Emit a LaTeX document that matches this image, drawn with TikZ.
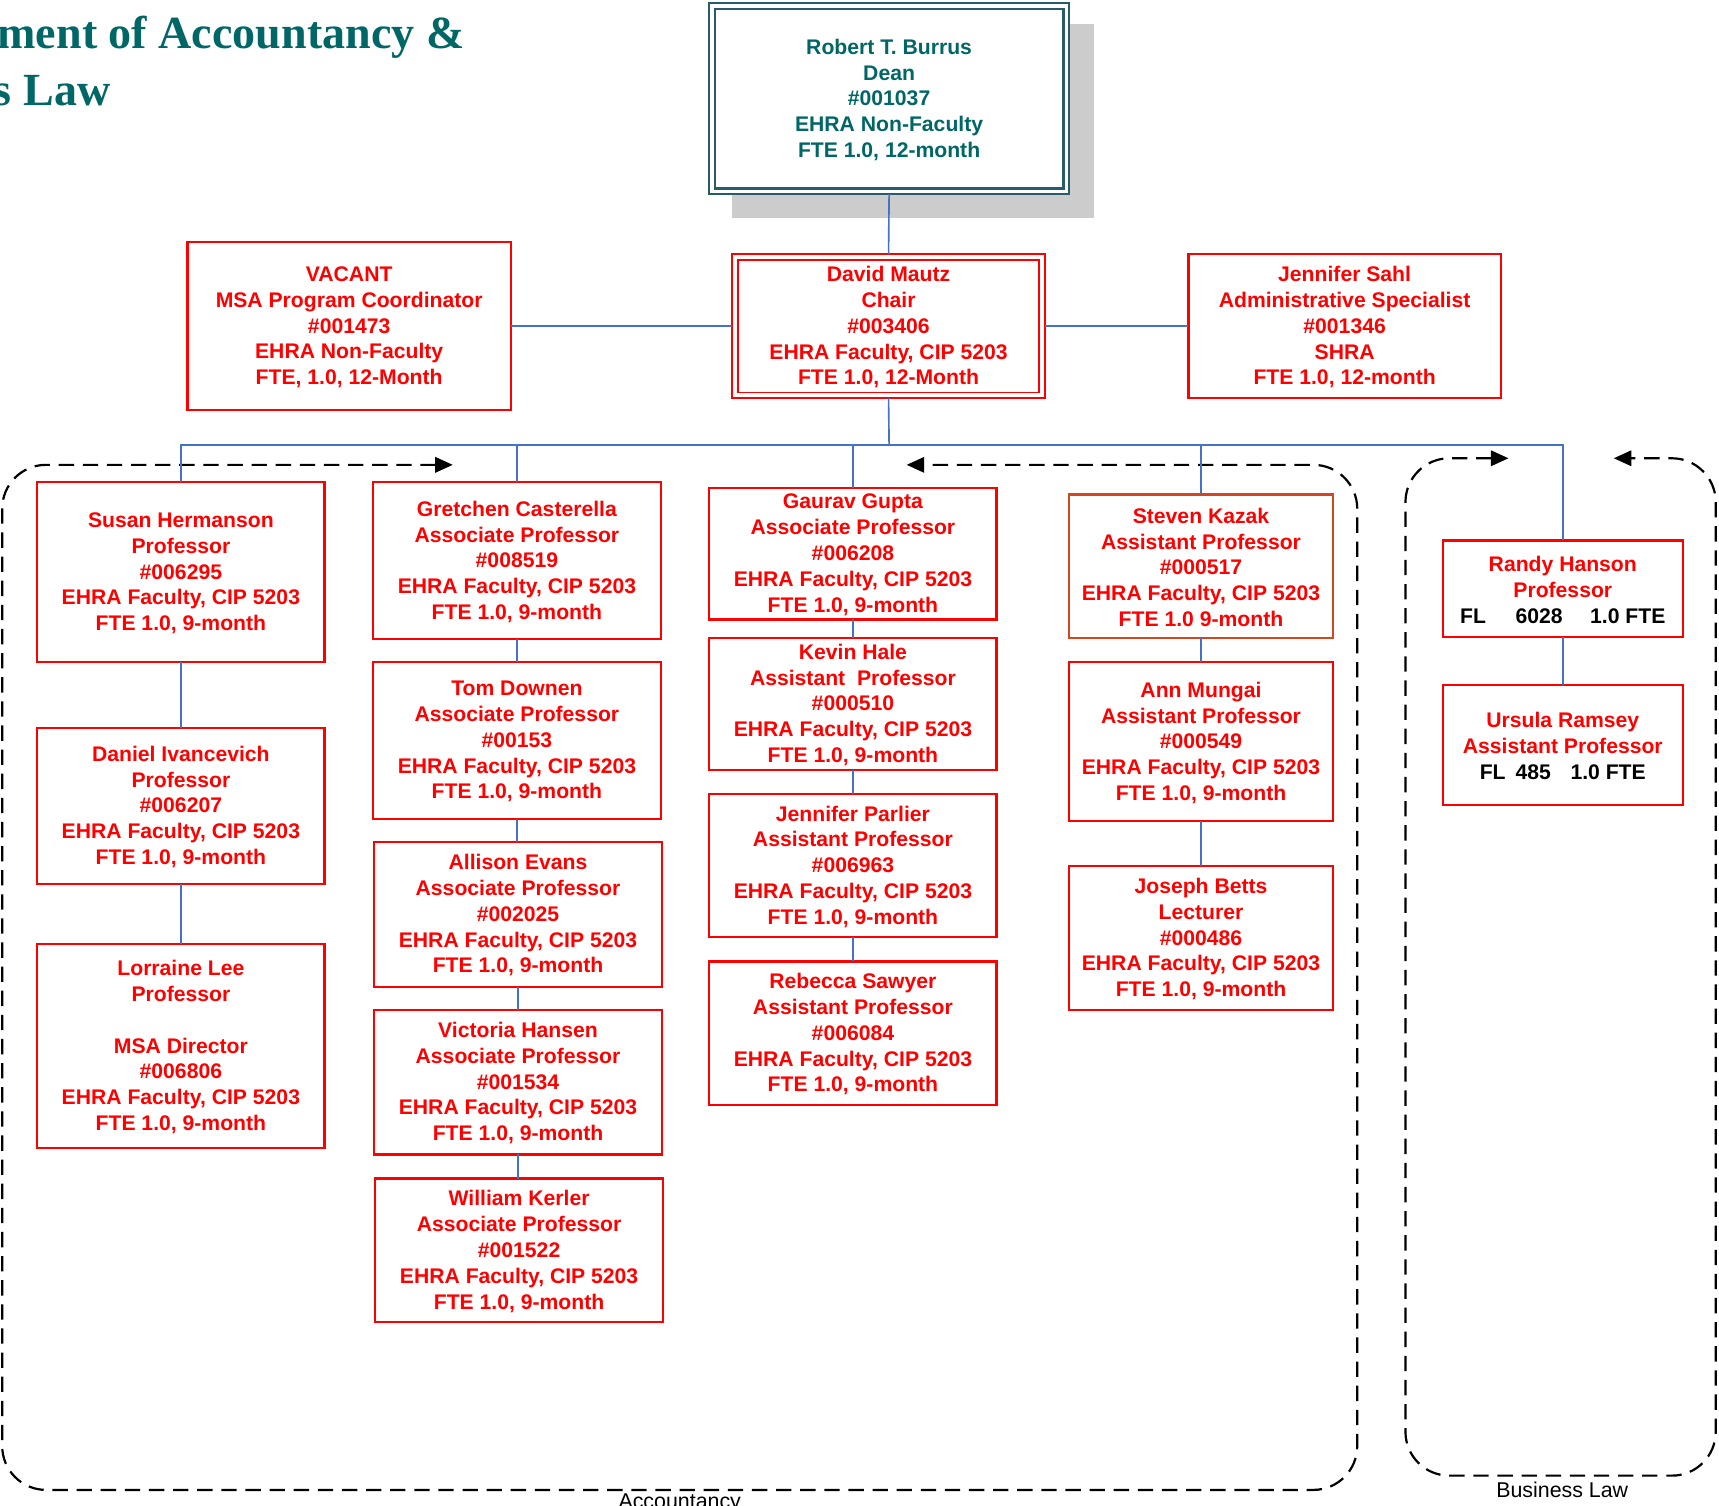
\documentclass[tikz,border=0pt]{standalone}
\usepackage{fontspec}
\setmainfont{Liberation Sans}
\newfontfamily\titleserif{Liberation Serif}
\usetikzlibrary{arrows.meta,fit}
\definecolor{orgred}{RGB}{255,0,0}
\definecolor{kazakred}{RGB}{210,72,30}
\definecolor{deanteal}{RGB}{0,102,102}
\definecolor{deanframe}{RGB}{40,92,104}
\definecolor{shadowgray}{RGB}{204,204,204}
\definecolor{connblue}{RGB}{68,114,196}
% #1 = name, #2 = extra frame options, #3 = fit corners, #4 = text
\newcommand{\orgbox}[4]{%
  \node[personframe, #2, fit={#3}] (#1) {};
  \node[persontext] (#1-text) at ([yshift=-0.5pt]#1.center) {#4};}
\begin{document}
\begin{tikzpicture}[x=0.5pt,y=-0.5pt,
  personframe/.style={draw=orgred, line width=1pt, fill=white, inner sep=0pt, outer sep=0pt},
  persontext/.style={text=orgred, inner sep=0pt, outer sep=0pt, align=center,
    font=\bfseries\fontsize{9.65pt}{11.75pt}\selectfont},
  conn/.style={draw=connblue, line width=0.75pt},
  groupline/.style={draw=black, line width=1pt, dash pattern=on 7pt off 4pt, rounded corners=20pt,
    {Triangle[length=8pt,width=7pt]}-{Triangle[length=8pt,width=7pt]}},
  grouplabel/.style={font=\fontsize{9.75pt}{11pt}\selectfont, anchor=base, inner sep=0pt},
  titletext/.style={font=\titleserif\bfseries\fontsize{21pt}{26pt}\selectfont, text=deanteal, anchor=base east, inner sep=0pt}
]
\useasboundingbox (0,0) rectangle (1568,1373);

% title
\node[titletext] (title1) at (424,44) {ment of Accountancy \&};
\node[titletext] (title2) at (101,96) {s Law};

% group outlines
\coordinate (accA) at (413,424);
\coordinate (accB) at (827,424);
\draw[groupline] (accA) -- (2,424) -- (2,1359) -- (1238,1359) -- (1238,424) -- (accB);
\coordinate (blA) at (1376,418);
\coordinate (blB) at (1472,418);
\draw[groupline] (blA) -- (1282,418) -- (1282,1346) -- (1565,1346) -- (1565,418) -- (blB);
\node[grouplabel] (acclabel) at (620,1376) {Accountancy};
\node[grouplabel] (bllabel) at (1425,1366) {Business Law};

% dean
\fill[shadowgray] (668,22) rectangle (998,199);
\node[personframe, draw=deanframe, fit={(647,3) (975,177)}] (dean) {};
\draw[deanframe, line width=1pt] ([shift={(5,5)}]dean.north west) rectangle ([shift={(-5,-5)}]dean.south east);
\node[persontext, text=deanteal] (dean-text) at ([yshift=-0.5pt]dean.center) {Robert T. Burrus\\Dean\\\#001037\\EHRA Non-Faculty\\FTE 1.0, 12-month};

% second level
\orgbox{vacant}{}{(171,221) (466,374)}{VACANT\\MSA Program Coordinator\\\#001473\\EHRA Non-Faculty\\FTE, 1.0, 12-Month}
\orgbox{mautz}{}{(668,232) (953,363)}{David Mautz\\Chair\\\#003406\\EHRA Faculty, CIP 5203\\FTE 1.0, 12-Month}
\draw[orgred, line width=0.75pt] ([shift={(5,5)}]mautz.north west) rectangle ([shift={(-5,-5)}]mautz.south east);
\orgbox{sahl}{}{(1084,232) (1369,363)}{Jennifer Sahl\\Administrative Specialist\\\#001346\\SHRA\\FTE 1.0, 12-month}

% column 1
\orgbox{susan}{}{(34,440) (296,604)}{Susan Hermanson\\Professor\\\#006295\\EHRA Faculty, CIP 5203\\FTE 1.0, 9-month}
\orgbox{daniel}{}{(34,664) (296,806)}{Daniel Ivancevich\\Professor\\\#006207\\EHRA Faculty, CIP 5203\\FTE 1.0, 9-month}
\orgbox{lorraine}{}{(34,861) (296,1047)}{Lorraine Lee\\Professor\\[11.75pt]MSA Director\\\#006806\\EHRA Faculty, CIP 5203\\FTE 1.0, 9-month}

% column 2
\orgbox{gretchen}{}{(340,440) (603,583)}{Gretchen Casterella\\Associate Professor\\\#008519\\EHRA Faculty, CIP 5203\\FTE 1.0, 9-month}
\orgbox{tom}{}{(340,604) (603,747)}{Tom Downen\\Associate Professor\\\#00153\\EHRA Faculty, CIP 5203\\FTE 1.0, 9-month}
\orgbox{allison}{}{(341,768) (604,900)}{Allison Evans\\Associate Professor\\\#002025\\EHRA Faculty, CIP 5203\\FTE 1.0, 9-month}
\orgbox{victoria}{}{(341,921) (604,1053)}{Victoria Hansen\\Associate Professor\\\#001534\\EHRA Faculty, CIP 5203\\FTE 1.0, 9-month}
\orgbox{william}{}{(342,1075) (605,1206)}{William Kerler\\Associate Professor\\\#001522\\EHRA Faculty, CIP 5203\\FTE 1.0, 9-month}

% column 3
\orgbox{gaurav}{}{(647,445) (909,565)}{Gaurav Gupta\\Associate Professor\\\#006208\\EHRA Faculty, CIP 5203\\FTE 1.0, 9-month}
\orgbox{kevin}{}{(647,582) (909,702)}{Kevin Hale\\Assistant~ Professor\\\#000510\\EHRA Faculty, CIP 5203\\FTE 1.0, 9-month}
\orgbox{parlier}{}{(647,724) (909,855)}{Jennifer Parlier\\Assistant Professor\\\#006963\\EHRA Faculty, CIP 5203\\FTE 1.0, 9-month}
\orgbox{sawyer}{}{(647,877) (909,1008)}{Rebecca Sawyer\\Assistant Professor\\\#006084\\EHRA Faculty, CIP 5203\\FTE 1.0, 9-month}

% column 4
\orgbox{kazak}{draw=kazakred}{(975,451) (1216,582)}{Steven Kazak\\Assistant Professor\\\#000517\\EHRA Faculty, CIP 5203\\FTE 1.0 9-month}
\orgbox{mungai}{}{(975,604) (1216,749)}{Ann Mungai\\Assistant Professor\\\#000549\\EHRA Faculty, CIP 5203\\FTE 1.0, 9-month}
\orgbox{betts}{}{(975,790) (1216,921)}{Joseph Betts\\Lecturer\\\#000486\\EHRA Faculty, CIP 5203\\FTE 1.0, 9-month}

% column 5
\orgbox{randy}{}{(1316,493) (1535,581)}{Randy Hanson\\Professor\\{\color{black}FL\hspace{13.5pt}6028\hspace{12.5pt}1.0 FTE}}
\orgbox{ursula}{}{(1316,625) (1535,734)}{Ursula Ramsey\\Assistant Professor\\{\color{black}FL\hspace{4.5pt}485\hspace{9pt}1.0 FTE}}

% connectors
\draw[conn] (dean.south) -- (mautz.north);
\draw[conn] (vacant.east) -- (mautz.west);
\draw[conn] (mautz.east) -- (sahl.west);
\coordinate (bus) at (811,406);
\draw[conn] (mautz.south) -- (bus);
\draw[conn] (bus) -| (susan.north);
\draw[conn] (bus) -| (gretchen.north);
\draw[conn] (bus) -| (gaurav.north);
\draw[conn] (bus) -| (kazak.north);
\draw[conn] (bus) -| (randy.north);
\draw[conn] (susan.south) -- (daniel.north);
\draw[conn] (daniel.south) -- (lorraine.north);
\draw[conn] (gretchen.south) -- (gretchen.south |- tom.north);
\draw[conn] (tom.south) -- (tom.south |- allison.north);
\draw[conn] (allison.south) -- (allison.south |- victoria.north);
\draw[conn] (victoria.south) -- (victoria.south |- william.north);
\draw[conn] (gaurav.south) -- (kevin.north);
\draw[conn] (kevin.south) -- (parlier.north);
\draw[conn] (parlier.south) -- (sawyer.north);
\draw[conn] (kazak.south) -- (mungai.north);
\draw[conn] (mungai.south) -- (betts.north);
\draw[conn] (randy.south) -- (ursula.north);
\end{tikzpicture}
\end{document}
